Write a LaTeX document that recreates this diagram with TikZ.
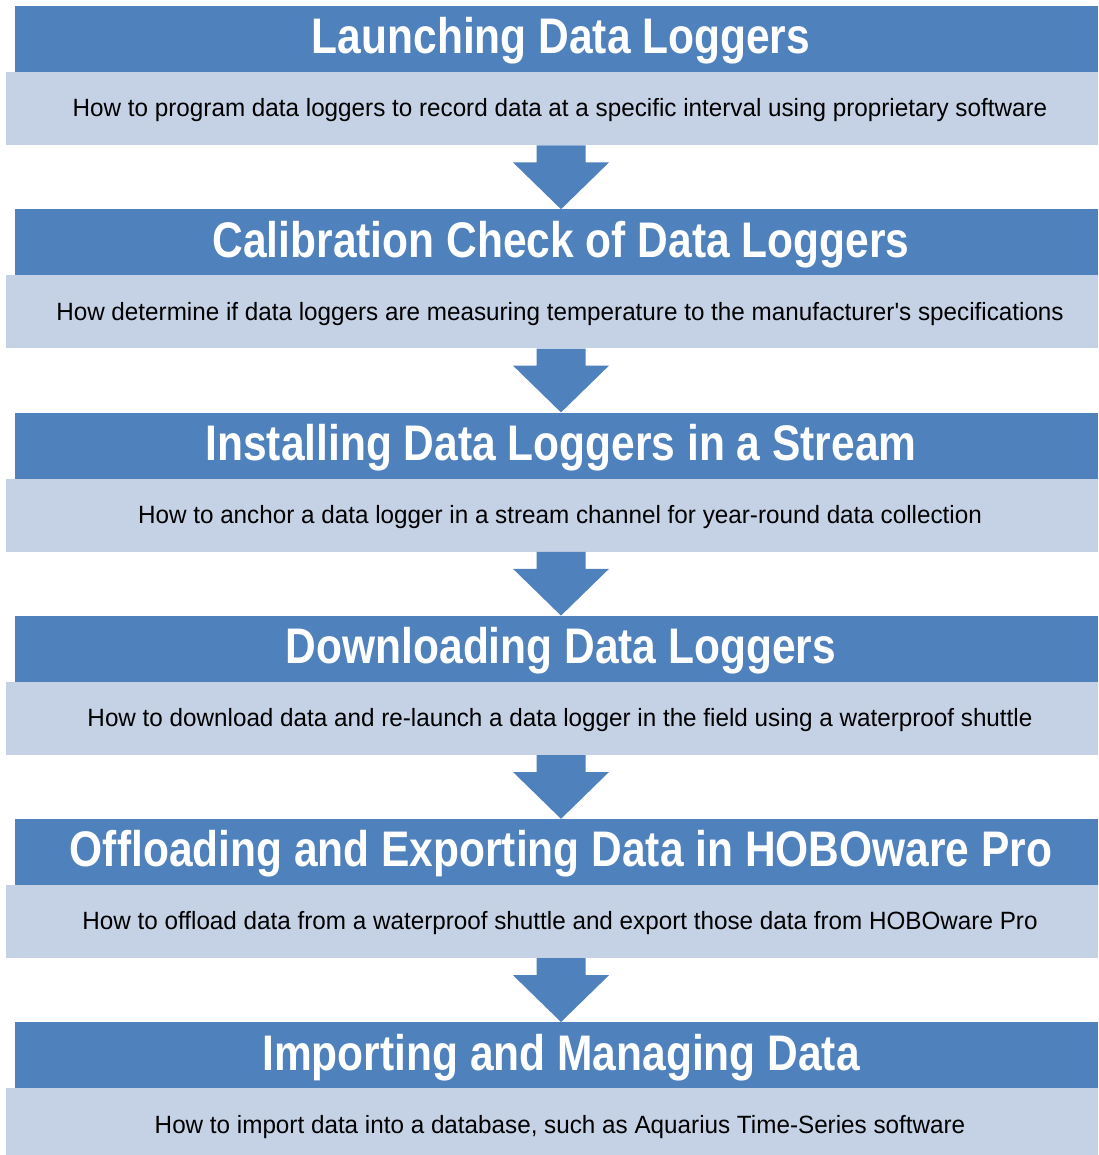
\documentclass[tikz,border=0pt]{standalone}
\usepackage{fontspec}
\usetikzlibrary{calc}
\newfontfamily\headfont[FakeStretch=0.85]{Liberation Sans}
\newfontfamily\descfont[FakeStretch=0.97]{Liberation Sans}
\definecolor{hblue}{HTML}{4F81BD}
\definecolor{lblue}{HTML}{C5D1E5}
\begin{document}
\begin{tikzpicture}[x=1pt,y=-1pt,
  hdrbox/.style={fill=hblue, draw=none, minimum width=1083pt, minimum height=66pt, inner sep=0pt, anchor=north west},
  descbox/.style={fill=lblue, draw=none, minimum width=1092pt, minimum height=73pt, inner sep=0pt, anchor=north west},
  hdrtext/.style={text=white, inner sep=0pt, font=\headfont\bfseries\fontsize{50}{60}\selectfont},
  desctext/.style={text=black, inner sep=0pt, font=\descfont\fontsize{25}{29}\selectfont},
  flowarrow/.style={fill=hblue, draw=none}]
\clip (0,0) rectangle (1098,1155);
\fill[white] (0,0) rectangle (1098,1155);

\foreach \i/\ttl/\dsc in {
  1/{Launching Data Loggers}/{How to program data loggers to record data at a specific interval using proprietary software},
  2/{Calibration Check of Data Loggers}/{How determine if data loggers are measuring temperature to the manufacturer's specifications},
  3/{Installing Data Loggers in a Stream}/{How to anchor a data logger in a stream channel for year-round data collection},
  4/{Downloading Data Loggers}/{How to download data and re-launch a data logger in the field using a waterproof shuttle},
  5/{Offloading and Exporting Data in HOBOware Pro}/{How to offload data from a waterproof shuttle and export those data from HOBOware Pro},
  6/{Importing and Managing Data}/{How to import data into a database, such as Aquarius Time-Series software}}{
  \pgfmathsetmacro{\top}{6+203.2*(\i-1)}
  \node[hdrbox] (h\i) at (15,\top) {};
  \node[descbox] (d\i) at (6,\top+66) {};
  \node[hdrtext, anchor=base] (ht\i) at (561,\top+48) {\ttl};
  \node[desctext, anchor=base] (dt\i) at (560,\top+111) {\dsc};
}

\foreach \i [evaluate=\i as \j using int(\i+1)] in {1,...,5}{
  \fill[flowarrow] let \p1=(d\i.south), \p2=(h\j.north) in
    (536.5,\y1) -- (585.5,\y1) -- (585.5,\y1-17) -- (609,\y1-17) -- (561,\y2)
    -- (513,\y1-17) -- (536.5,\y1-17) -- cycle;
}
\end{tikzpicture}
\end{document}
